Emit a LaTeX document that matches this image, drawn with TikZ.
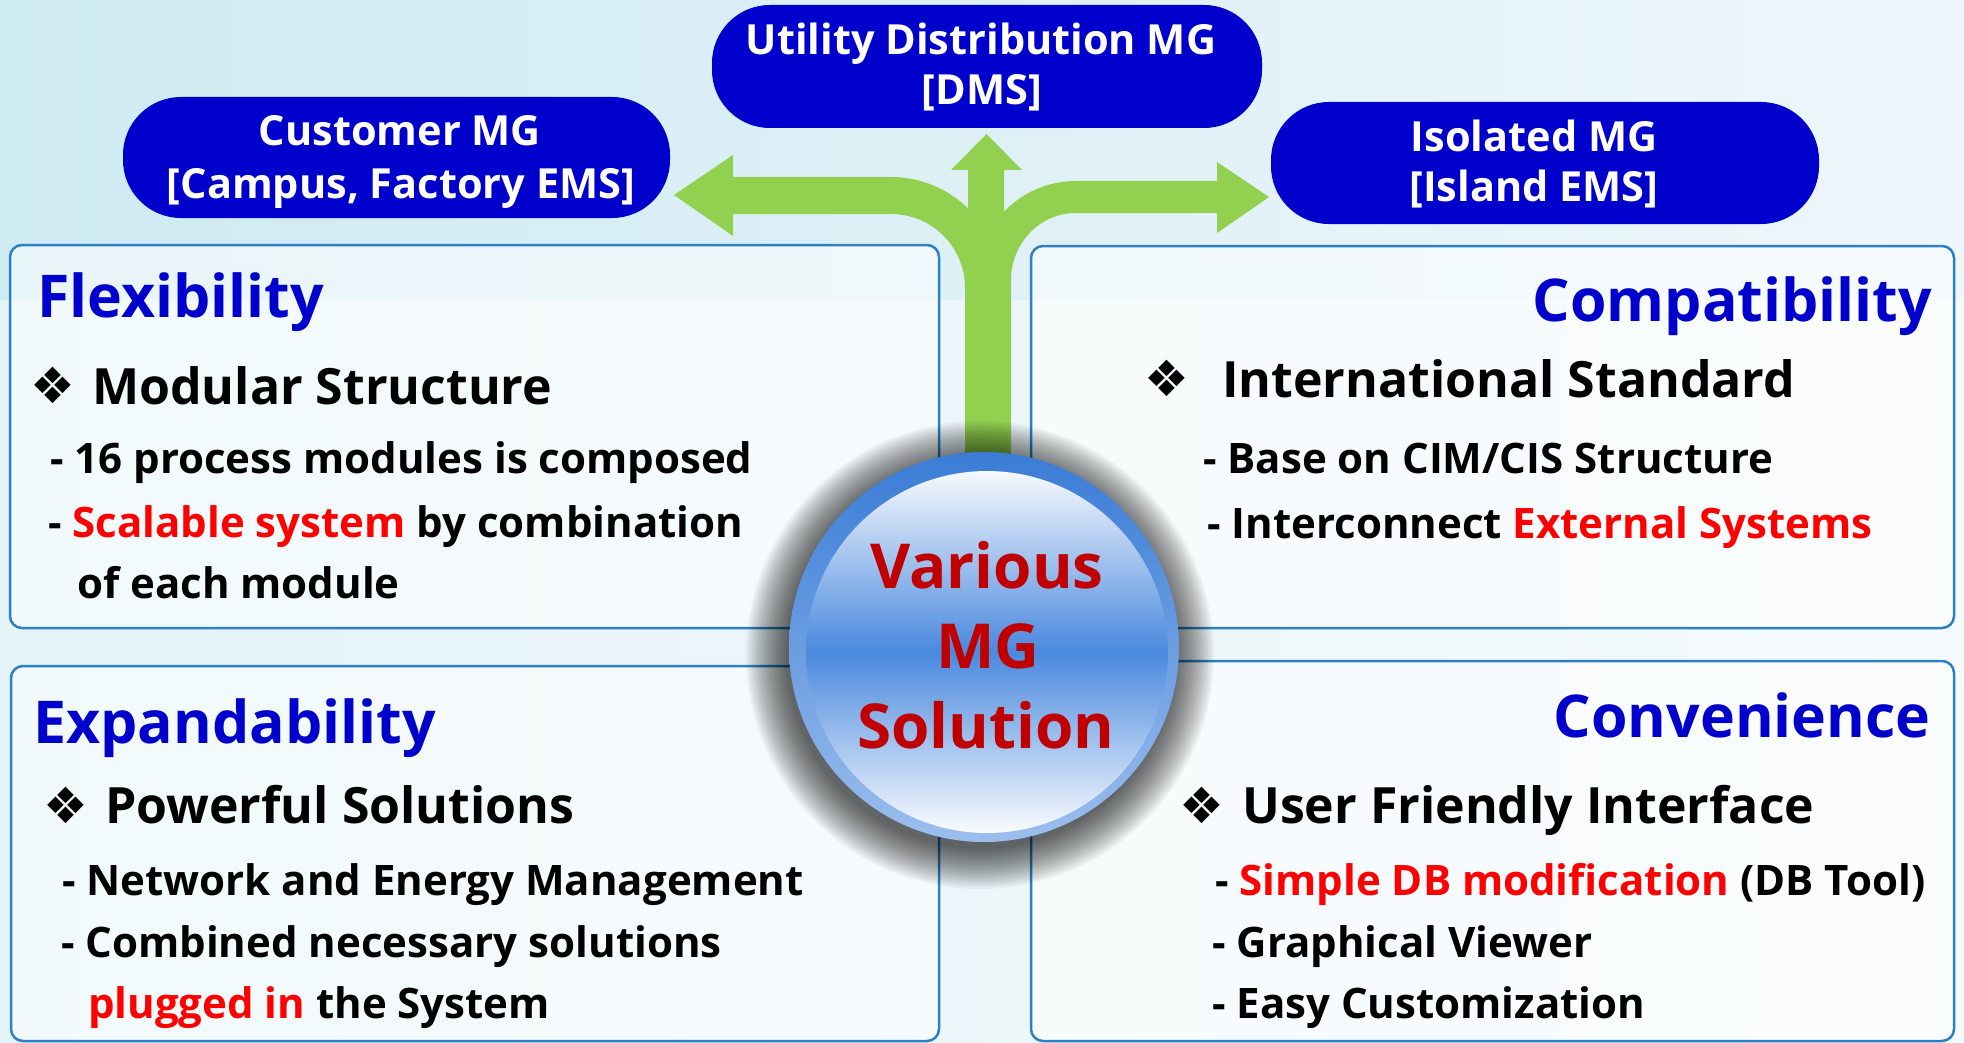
\documentclass[tikz,border=0pt]{standalone}
\usepackage{fontspec}
\setmainfont{Open Sans}
\newfontfamily\symf{DejaVu Sans}
\definecolor{boxblue}{RGB}{0,0,204}
\definecolor{ttlblue}{RGB}{0,0,204}
\definecolor{arrgreen}{RGB}{146,208,80}
\definecolor{panelline}{RGB}{46,128,196}
\definecolor{hired}{RGB}{255,0,0}
\definecolor{dkred}{RGB}{192,0,0}
\definecolor{skyA}{RGB}{206,234,242}
\definecolor{skyB}{RGB}{238,247,251}
\definecolor{ringblue}{RGB}{58,124,214}
\definecolor{midblue}{RGB}{74,137,222}
\newcommand{\hl}[1]{\textcolor{hired}{#1}}
\begin{document}
\begin{tikzpicture}[x=1pt,y=-1pt,
  tbox/.style={fill=boxblue, rounded corners=58pt, inner sep=0pt},
  panel/.style={draw=panelline, line width=2.5pt, fill=white, fill opacity=0.55, rounded corners=12pt, inner sep=0pt},
  txt/.style={inner sep=0pt, anchor=base west},
  ttl/.style={txt, text=ttlblue, font=\fontsize{59}{70}\selectfont\bfseries},
  sub/.style={txt, font=\fontsize{50}{60}\selectfont\bfseries},
  bod/.style={txt, font=\fontsize{42}{50}\selectfont\bfseries},
  dia/.style={inner sep=0pt, anchor=center, font=\fontsize{50}{58}\selectfont\symf},
  boxtxt/.style={inner sep=0pt, anchor=base, text=white, font=\fontsize{41.5}{50}\selectfont\bfseries},
  hubtxt/.style={inner sep=0pt, anchor=base, text=dkred, font=\fontsize{62}{74}\selectfont\bfseries}]
\useasboundingbox (0,0) rectangle (1964,1043);
% background
\fill[left color=skyA, right color=skyB] (0,0) rectangle (1964,1043);
\fill[white, opacity=0.45] (0,300) rectangle (1964,1043);

% panels
\node[panel, minimum width=929pt, minimum height=383pt] (flex) at (474.5,436.5) {};
\node[panel, minimum width=923pt, minimum height=382pt] (comp) at (1492.5,437) {};
\node[panel, minimum width=928pt, minimum height=375pt] (expa) at (475,853.5) {};
\node[panel, minimum width=923pt, minimum height=380pt] (conv) at (1492.5,851) {};

% green arrows
\fill[arrgreen] (965,470) -- (965,288) .. controls (965,247) and (932,214) .. (891,214)
  -- (733,214) -- (733,236) -- (674,195) -- (733,155) -- (733,177) -- (891,177)
  .. controls (952,177) and (1002,227) .. (1002,288) -- (1002,470) -- cycle;
\fill[arrgreen] (1011,470) -- (1011,280) .. controls (1011,243) and (1040,213) .. (1076,213)
  -- (1217,213) -- (1217,233) -- (1269,197) -- (1217,162) -- (1217,181) -- (1076,181)
  .. controls (1021,181) and (977,225) .. (977,280) -- (977,470) -- cycle;
\fill[arrgreen] (968,300) -- (968,170) -- (951,170) -- (986.5,134) -- (1022,170) -- (1004,170) -- (1004,300) -- cycle;

% hub shadow
\foreach \i in {0,...,20}{
  \fill[black, opacity=0.04] (980,655) circle[radius=194+2*\i];
}
% hub
\node[circle, minimum size=390pt, inner sep=0pt, top color=ringblue, bottom color=midblue!55!white] (hub) at (984,647) {};
\node[circle, minimum size=362pt, inner sep=0pt, top color=white!95!midblue, bottom color=white!97!midblue, middle color=midblue] (hubin) at (987,652) {};
\node[hubtxt] (h1) at (987,588) {Various};
\node[hubtxt] (h2) at (988,668) {MG};
\node[hubtxt] (h3) at (986,748) {Solution};

% top boxes
\node[tbox, minimum width=547pt, minimum height=121pt] (cust) at (396.5,157.5) {};
\node[tbox, minimum width=550pt, minimum height=123pt] (util) at (987,66.5) {};
\node[tbox, minimum width=548pt, minimum height=122pt] (isol) at (1545,163) {};
\node[boxtxt] (c1) at (400,146) {Customer MG};
\node[boxtxt] (c2) at (401,199) {[Campus, Factory EMS]};
\node[boxtxt] (u1) at (981,55) {Utility Distribution MG};
\node[boxtxt] (u2) at (982,105) {[DMS]};
\node[boxtxt] (i1) at (1534,152) {Isolated MG};
\node[boxtxt] (i2) at (1534,202) {[Island EMS]};

% Flexibility
\node[ttl] (t1) at (37,317) {Flexibility};
\node[dia] (d1) at (53,385) {❖};
\node[sub] (s1) at (92,404) {Modular Structure};
\node[bod] (b11) at (50,473) {- 16 process modules is composed};
\node[bod] (b12) at (48,537) {- \hl{Scalable system} by combination};
\node[bod] (b13) at (77,598) {of each module};

% Compatibility
\node[ttl, anchor=base east] (t2) at (1932,321) {Compatibility};
\node[dia] (d2) at (1167,378) {❖};
\node[sub] (s2) at (1222,397) {International Standard};
\node[bod] (b21) at (1203,473) {- Base on CIM/CIS Structure};
\node[bod] (b22) at (1207,538) {- Interconnect \hl{External Systems}};

% Expandability
\node[ttl] (t3) at (33,743) {Expandability};
\node[dia] (d3) at (65.5,805) {❖};
\node[sub] (s3) at (105,823) {Powerful Solutions};
\node[bod] (b31) at (62,895) {- Network and Energy Management};
\node[bod] (b32) at (61,957) {- Combined necessary solutions};
\node[bod] (b33) at (88,1018) {\hl{plugged in} the System};

% Convenience
\node[ttl, anchor=base east] (t4) at (1931,737) {Convenience};
\node[dia] (d4) at (1202,805) {❖};
\node[sub] (s4) at (1242,823) {User Friendly Interface};
\node[bod] (b41) at (1215,895) {- \hl{Simple DB modification} (DB Tool)};
\node[bod] (b42) at (1212,957) {- Graphical Viewer};
\node[bod] (b43) at (1212,1018) {- Easy Customization};
\end{tikzpicture}
\end{document}
